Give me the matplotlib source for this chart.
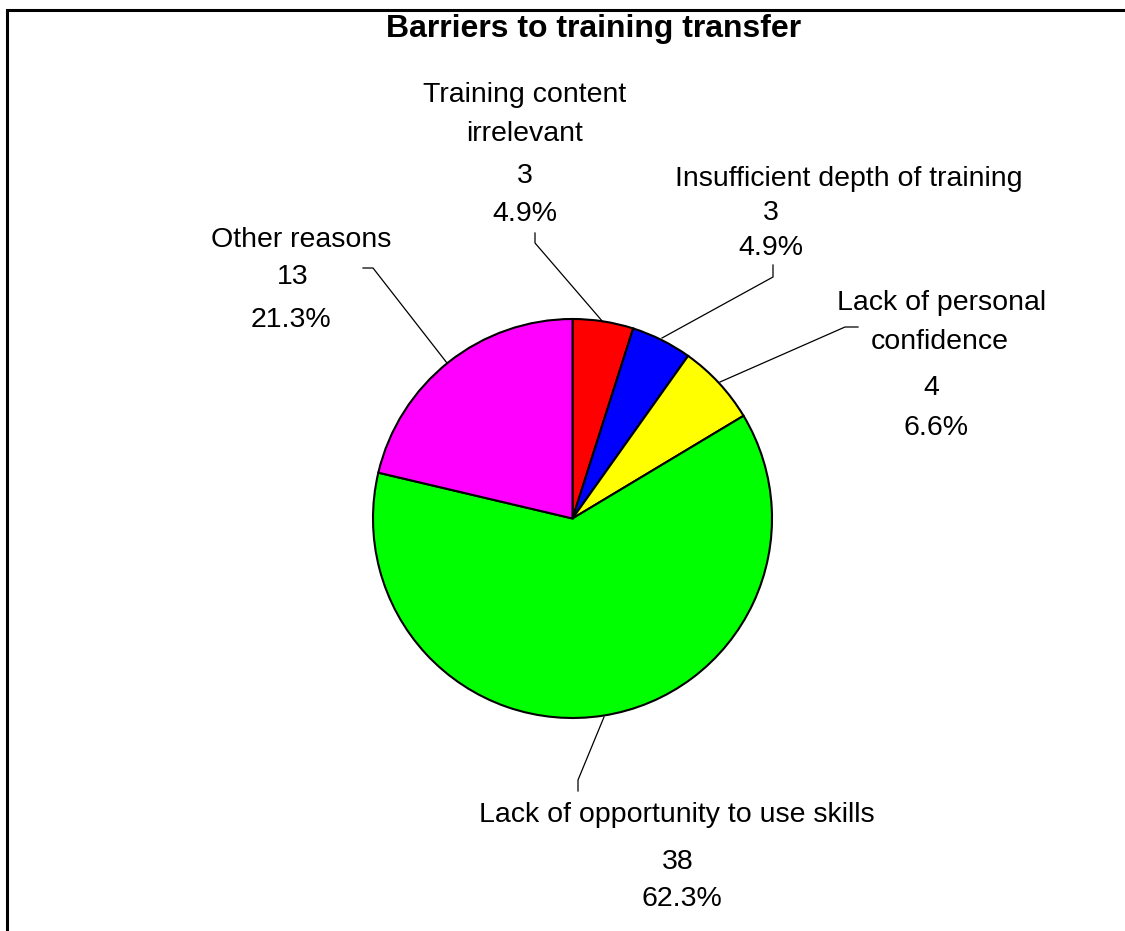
import matplotlib.pyplot as plt
from matplotlib.patches import Rectangle

# data
categories = ["Training content irrelevant", "Insufficient depth of training",
              "Lack of personal confidence", "Lack of opportunity to use skills",
              "Other reasons"]
counts = [3, 3, 4, 38, 13]
pct_labels = ["4.9%", "4.9%", "6.6%", "62.3%", "21.3%"]
colors = ["#FF0000", "#0000FF", "#FFFF00", "#00FF00", "#FF00FF"]

W, H = 1125, 931
plt.rcParams['font.family'] = ['Liberation Sans', 'DejaVu Sans']

fig = plt.figure(figsize=(W / 100, H / 100), dpi=100)
ax = fig.add_axes([0, 0, 1, 1])

def Y(y):
    # pixel row -> axes y (upwards)
    return H - y

ax.pie(counts, colors=colors, startangle=90, counterclock=False,
       center=(572.5, Y(518.5)), radius=199.5,
       wedgeprops=dict(edgecolor="black", linewidth=1.5))
ax.set_xlim(0, W)
ax.set_ylim(0, H)
ax.set_aspect('equal')
ax.axis('off')

# outer frame (runs off the right and bottom of the image)
ax.add_patch(Rectangle((7, Y(1000)), 1200, 990, fill=False,
                       edgecolor="black", linewidth=2.2, clip_on=False))

ax.text(594, Y(29), "Barriers to training transfer", ha="center", va="center",
        fontsize=23, fontweight="bold")

# label text lines: (text, x, y) in pixel positions
label_lines = [
    [("Training content", 525, 95), ("irrelevant", 525, 134),
     (str(counts[0]), 525, 176), (pct_labels[0], 525, 214)],
    [("Insufficient depth of training", 849, 179),
     (str(counts[1]), 771, 213), (pct_labels[1], 771, 248)],
    [("Lack of personal", 942, 303), ("confidence", 940, 342),
     (str(counts[2]), 931, 388), (pct_labels[2], 936, 428)],
    [("Lack of opportunity to use skills", 677, 815),
     (str(counts[3]), 678, 862), (pct_labels[3], 682, 899)],
    [("Other reasons", 301, 240), (str(counts[4]), 293, 277),
     (pct_labels[4], 291, 320)],
]
leaders = [
    [(535, 233), (535, 243), (603, 322)],
    [(773, 265), (773, 277), (662, 338)],
    [(858, 327), (845, 327), (720, 382)],
    [(578, 791), (578, 780), (604, 717)],
    [(363, 268), (373, 268), (447, 363)],
]

for lines in label_lines:
    for txt, x, y in lines:
        ax.text(x, Y(y), txt, ha="center", va="center", fontsize=20.5)

for pts in leaders:
    ax.plot([p[0] for p in pts], [Y(p[1]) for p in pts], color="black",
            linewidth=0.9)

fig.savefig("out.png", dpi=100)
